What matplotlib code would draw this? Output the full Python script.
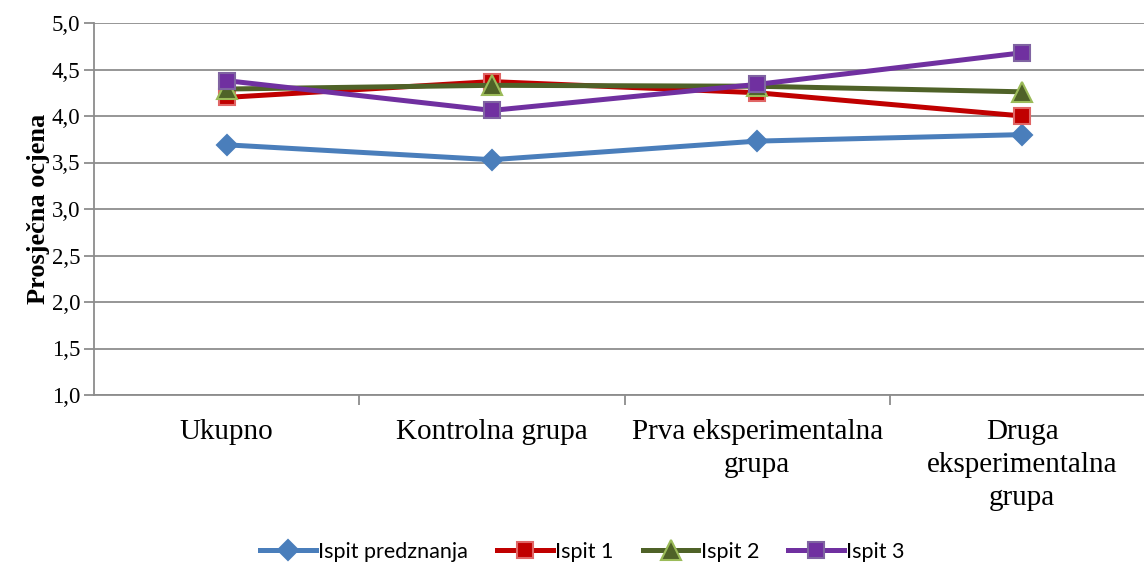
import matplotlib
matplotlib.use("Agg")
import matplotlib.pyplot as plt
from matplotlib.ticker import FixedLocator

categories = ["Ukupno", "Kontrolna grupa", "Prva eksperimentalna\ngrupa", "Druga\neksperimentalna\ngrupa"]
ispit_predznanja = [3.69, 3.53, 3.73, 3.80]
ispit_1 = [4.20, 4.37, 4.25, 4.00]
ispit_2 = [4.29, 4.33, 4.32, 4.26]
ispit_3 = [4.38, 4.06, 4.34, 4.68]
series_names = ["Ispit predznanja", "Ispit 1", "Ispit 2", "Ispit 3"]
yticks = [1.0, 1.5, 2.0, 2.5, 3.0, 3.5, 4.0, 4.5, 5.0]

W, H = 1144, 567
fig = plt.figure(figsize=(W / 100, H / 100), dpi=100)
left = 94 / W
right = 1155 / W
top = 23 / H
bottom = 395 / H
ax = fig.add_axes([left, 1 - bottom, right - left, bottom - top])

x = list(range(len(categories)))
styles = [
    dict(color="#4A7EBB", marker="D", mfc="#4A7EBB", mec="#4A7EBB", ms=10),
    dict(color="#C00000", marker="s", mfc="#C00000", mec="#E06666", ms=12),
    dict(color="#4F6228", marker="^", mfc="#4F6228", mec="#9BBB59", ms=15),
    dict(color="#7030A0", marker="s", mfc="#7030A0", mec="#8064A2", ms=12),
]
data = [ispit_predznanja, ispit_1, ispit_2, ispit_3]
for vals, name, st in zip(data, series_names, styles):
    ax.plot(x, vals, label=name, lw=3.6, color=st["color"], marker=st["marker"],
            markerfacecolor=st["mfc"], markeredgecolor=st["mec"], markersize=st["ms"],
            markeredgewidth=1.5, zorder=3)

ax.set_xlim(-0.5, len(categories) - 0.5)
ax.set_ylim(1.0, 5.0)
ax.set_yticks(yticks)
ax.set_yticklabels([f"{v:.1f}".replace(".", ",") for v in yticks],
                   fontfamily="Liberation Serif", fontsize=16.5)
ax.yaxis.grid(True, color="#969696", lw=1.4)
ax.set_axisbelow(True)

ax.set_xticks(x)
ax.set_xticklabels(categories, fontfamily="Liberation Serif", fontsize=21, linespacing=1.36)
ax.tick_params(axis="x", which="major", length=0, pad=17)
ax.xaxis.set_minor_locator(FixedLocator([0.5, 1.5, 2.5]))
ax.tick_params(axis="x", which="minor", length=7, color="#8c8c8c", width=1.3, direction="out")
ax.tick_params(axis="y", length=7, color="#8c8c8c", width=1.3, direction="out", pad=3)

for s in ["top", "right"]:
    ax.spines[s].set_visible(False)
for s in ["left", "bottom"]:
    ax.spines[s].set_color("#8c8c8c")
    ax.spines[s].set_linewidth(1.3)

ax.set_ylabel("Prosječna ocjena", fontfamily="Liberation Serif", fontsize=19,
              fontweight="bold", labelpad=1)

leg = fig.legend(loc="center", bbox_to_anchor=(0.509, 1 - 552 / H), ncol=4, frameon=False,
                 prop={"family": "Lato", "size": 15.5}, handlelength=2.6, columnspacing=1.35,
                 handletextpad=0.1)

fig.savefig("out.png", dpi=100)
